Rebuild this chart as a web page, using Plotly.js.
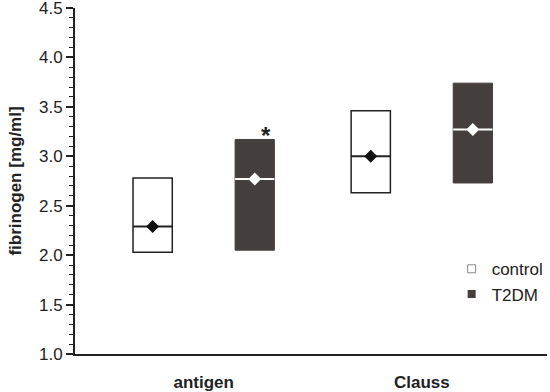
<!DOCTYPE html>
<html>
<head>
<meta charset="utf-8">
<script src="https://cdn.plot.ly/plotly-3.0.1.min.js"></script>
<style>
  html, body { margin: 0; padding: 0; background: #fff; }
  #chart { width: 550px; height: 392px; }
</style>
</head>
<body>
<div id="chart"></div>
<script>
// fibrinogen, box = 25th-75th percentile, line = median, diamond = mean
var categories = ['antigen', 'Clauss'];
var groups = ['control', 'T2DM'];

var controlQ1 = [2.03, 2.63];
var controlQ3 = [2.78, 3.46];
var controlMedian = [2.29, 3.00];
var controlMean = [2.29, 3.00];

var t2dmQ1 = [2.05, 2.73];
var t2dmQ3 = [3.17, 3.74];
var t2dmMedian = [2.77, 3.27];
var t2dmMean = [2.77, 3.27];

var FONT = 'Arial, "Liberation Sans", sans-serif';
var DARK = '#443f3d';
var shift = 0.234;   // group offset from category centre
var boxW = 0.18;

var idx = categories.map(function(c, i) { return i; });
var xCtrl = idx.map(function(i) { return i - shift; });
var xT2dm = idx.map(function(i) { return i + shift; });

function medianLine(xs, meds) {
  var lx = [], ly = [];
  xs.forEach(function(x, i) {
    lx.push(x - boxW / 2, x + boxW / 2, null);
    ly.push(meds[i], meds[i], null);
  });
  return {x: lx, y: ly};
}

var ctrlBox = {
  x: xCtrl,
  y: controlQ3.map(function(v, i) { return v - controlQ1[i]; }),
  base: controlQ1,
  width: boxW,
  type: 'bar',
  name: groups[0],
  showlegend: false,
  marker: {color: '#ffffff', line: {color: '#222', width: 1.5}},
  hoverinfo: 'skip'
};

var t2dmBox = {
  x: xT2dm,
  y: t2dmQ3.map(function(v, i) { return v - t2dmQ1[i]; }),
  base: t2dmQ1,
  width: boxW,
  type: 'bar',
  name: groups[1],
  showlegend: false,
  marker: {color: DARK, line: {color: DARK, width: 1}},
  hoverinfo: 'skip'
};

var ml1 = medianLine(xCtrl, controlMedian);
var ctrlMed = {
  x: ml1.x, y: ml1.y, type: 'scatter', mode: 'lines',
  line: {color: '#222', width: 2}, showlegend: false, hoverinfo: 'skip'
};
var ml2 = medianLine(xT2dm, t2dmMedian);
var t2dmMed = {
  x: ml2.x, y: ml2.y, type: 'scatter', mode: 'lines',
  line: {color: '#ffffff', width: 2}, showlegend: false, hoverinfo: 'skip'
};

var ctrlMeanPts = {
  x: xCtrl, y: controlMean, type: 'scatter', mode: 'markers',
  marker: {symbol: 'diamond', size: 10, color: '#111'},
  showlegend: false
};
var t2dmMeanPts = {
  x: xT2dm, y: t2dmMean, type: 'scatter', mode: 'markers',
  marker: {symbol: 'diamond', size: 10, color: '#ffffff'},
  showlegend: false
};

// small square keys for the legend only
var ctrlKey = {
  x: [null], y: [null], type: 'scatter', mode: 'markers', name: groups[0],
  marker: {symbol: 'square', size: 8, color: '#ffffff', line: {color: '#888', width: 1}}
};
var t2dmKey = {
  x: [null], y: [null], type: 'scatter', mode: 'markers', name: groups[1],
  marker: {symbol: 'square', size: 8, color: DARK}
};

var data = [ctrlBox, t2dmBox, ctrlMed, t2dmMed, ctrlMeanPts, t2dmMeanPts, ctrlKey, t2dmKey];

var layout = {
  width: 550,
  height: 392,
  margin: {l: 75, r: 3, t: 8, b: 38, autoexpand: false},
  paper_bgcolor: '#fff',
  plot_bgcolor: '#fff',
  font: {family: FONT, size: 17, color: '#222'},
  showlegend: true,
  legend: {
    x: 0.798, y: 0.297, xanchor: 'left', yanchor: 'top',
    font: {size: 17, color: '#222'},
    itemwidth: 30,
    tracegroupgap: 0,
    bgcolor: 'rgba(0,0,0,0)'
  },
  xaxis: {
    range: [-0.59, 1.574],
    tickvals: idx,
    ticktext: categories,
    showline: true,
    linecolor: '#222',
    linewidth: 2,
    ticks: '',
    ticklabelstandoff: 12,
    tickfont: {size: 17, color: '#222', weight: 'bold'},
    showgrid: false,
    zeroline: false
  },
  yaxis: {
    title: {text: '<b>fibrinogen [mg/ml]</b>', font: {size: 17, color: '#222'}, standoff: 13},
    range: [1.0, 4.5],
    dtick: 0.5,
    tickformat: '.1f',
    ticklabeloverflow: 'allow',
    showline: true,
    linecolor: '#222',
    linewidth: 2,
    ticks: 'outside',
    ticklen: 7,
    tickwidth: 1.5,
    tickcolor: '#222',
    tickfont: {size: 17, color: '#222'},
    minor: {dtick: 0.1, ticks: 'outside', ticklen: 4, tickwidth: 1, tickcolor: '#222'},
    showgrid: false,
    zeroline: false
  },
  annotations: [{
    x: xT2dm[0] + 0.05,
    y: t2dmQ3[0],
    xref: 'x', yref: 'y',
    text: '<b>*</b>',
    showarrow: false,
    yanchor: 'bottom',
    font: {size: 24, color: '#222'},
    yshift: -12
  }]
};

Plotly.newPlot('chart', data, layout, {displayModeBar: false});
</script>
</body>
</html>
